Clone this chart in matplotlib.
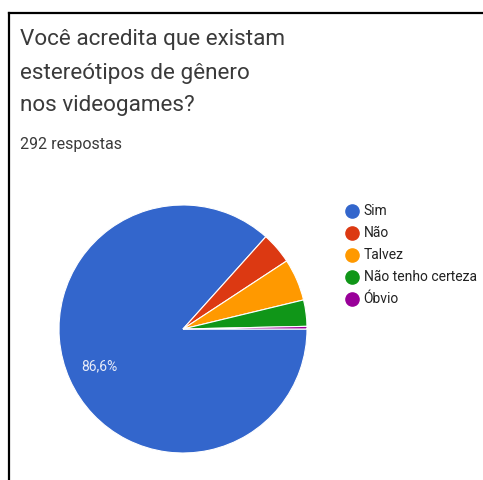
import matplotlib
matplotlib.use("Agg")
import matplotlib.pyplot as plt
from matplotlib.lines import Line2D

categories = ["Sim", "Não", "Talvez", "Não tenho certeza", "Óbvio"]
counts = [253, 12, 16, 10, 1]
colors = ["#3366CC", "#DC3912", "#FF9900", "#109618", "#990099"]
title_lines = ["Você acredita que existam", "estereótipos de gênero", "nos videogames?"]
subtitle = "292 respostas"

W, H = 483, 480
fig = plt.figure(figsize=(W / 100, H / 100), dpi=100)
fig.patch.set_facecolor("white")
plt.rcParams['font.family'] = ['Roboto', 'DejaVu Sans']

ax = fig.add_axes([0, 0, 1, 1])

def fmt(p):
    return ("%.1f%%" % p).replace(".", ",") if p > 10 else ""

wedges, texts, autotexts = ax.pie(
    counts, colors=colors, startangle=0, counterclock=False,
    center=(183, H - 329), radius=124,
    wedgeprops=dict(edgecolor="white", linewidth=0.8),
    autopct=fmt, pctdistance=0.74,
    textprops=dict(color="#e8ecf8", fontsize=10))
ax.set_xlim(0, W)
ax.set_ylim(0, H)
ax.set_aspect("equal")
ax.axis("off")

def px(x, y):
    return x / W, 1 - y / H

# title
for i, line in enumerate(title_lines):
    fig.text(*px(20, 40 + i * 33), line, fontsize=16.2, color="#3a3a3a",
             ha="left", va="center")
fig.text(*px(20, 144), subtitle, fontsize=11.5, color="#3a3a3a", ha="left", va="center")

# legend
for i, (c, col) in enumerate(zip(categories, colors)):
    y = 211 + i * 22
    fig.add_artist(Line2D([352 / W], [1 - y / H], marker="o", markersize=9.5,
                          color=col, linestyle="none", transform=fig.transFigure))
    fig.text(*px(363.5, y), c, fontsize=10, color="#222222", ha="left", va="center")

# border lines (top and left)
fig.add_artist(Line2D([9 / W, 1], [1 - 12.5 / H, 1 - 12.5 / H], color="black",
                      linewidth=1.6, transform=fig.transFigure))
fig.add_artist(Line2D([9 / W, 9 / W], [0, 1 - 12.5 / H], color="black",
                      linewidth=1.6, transform=fig.transFigure))

fig.savefig("out.png", dpi=100)
